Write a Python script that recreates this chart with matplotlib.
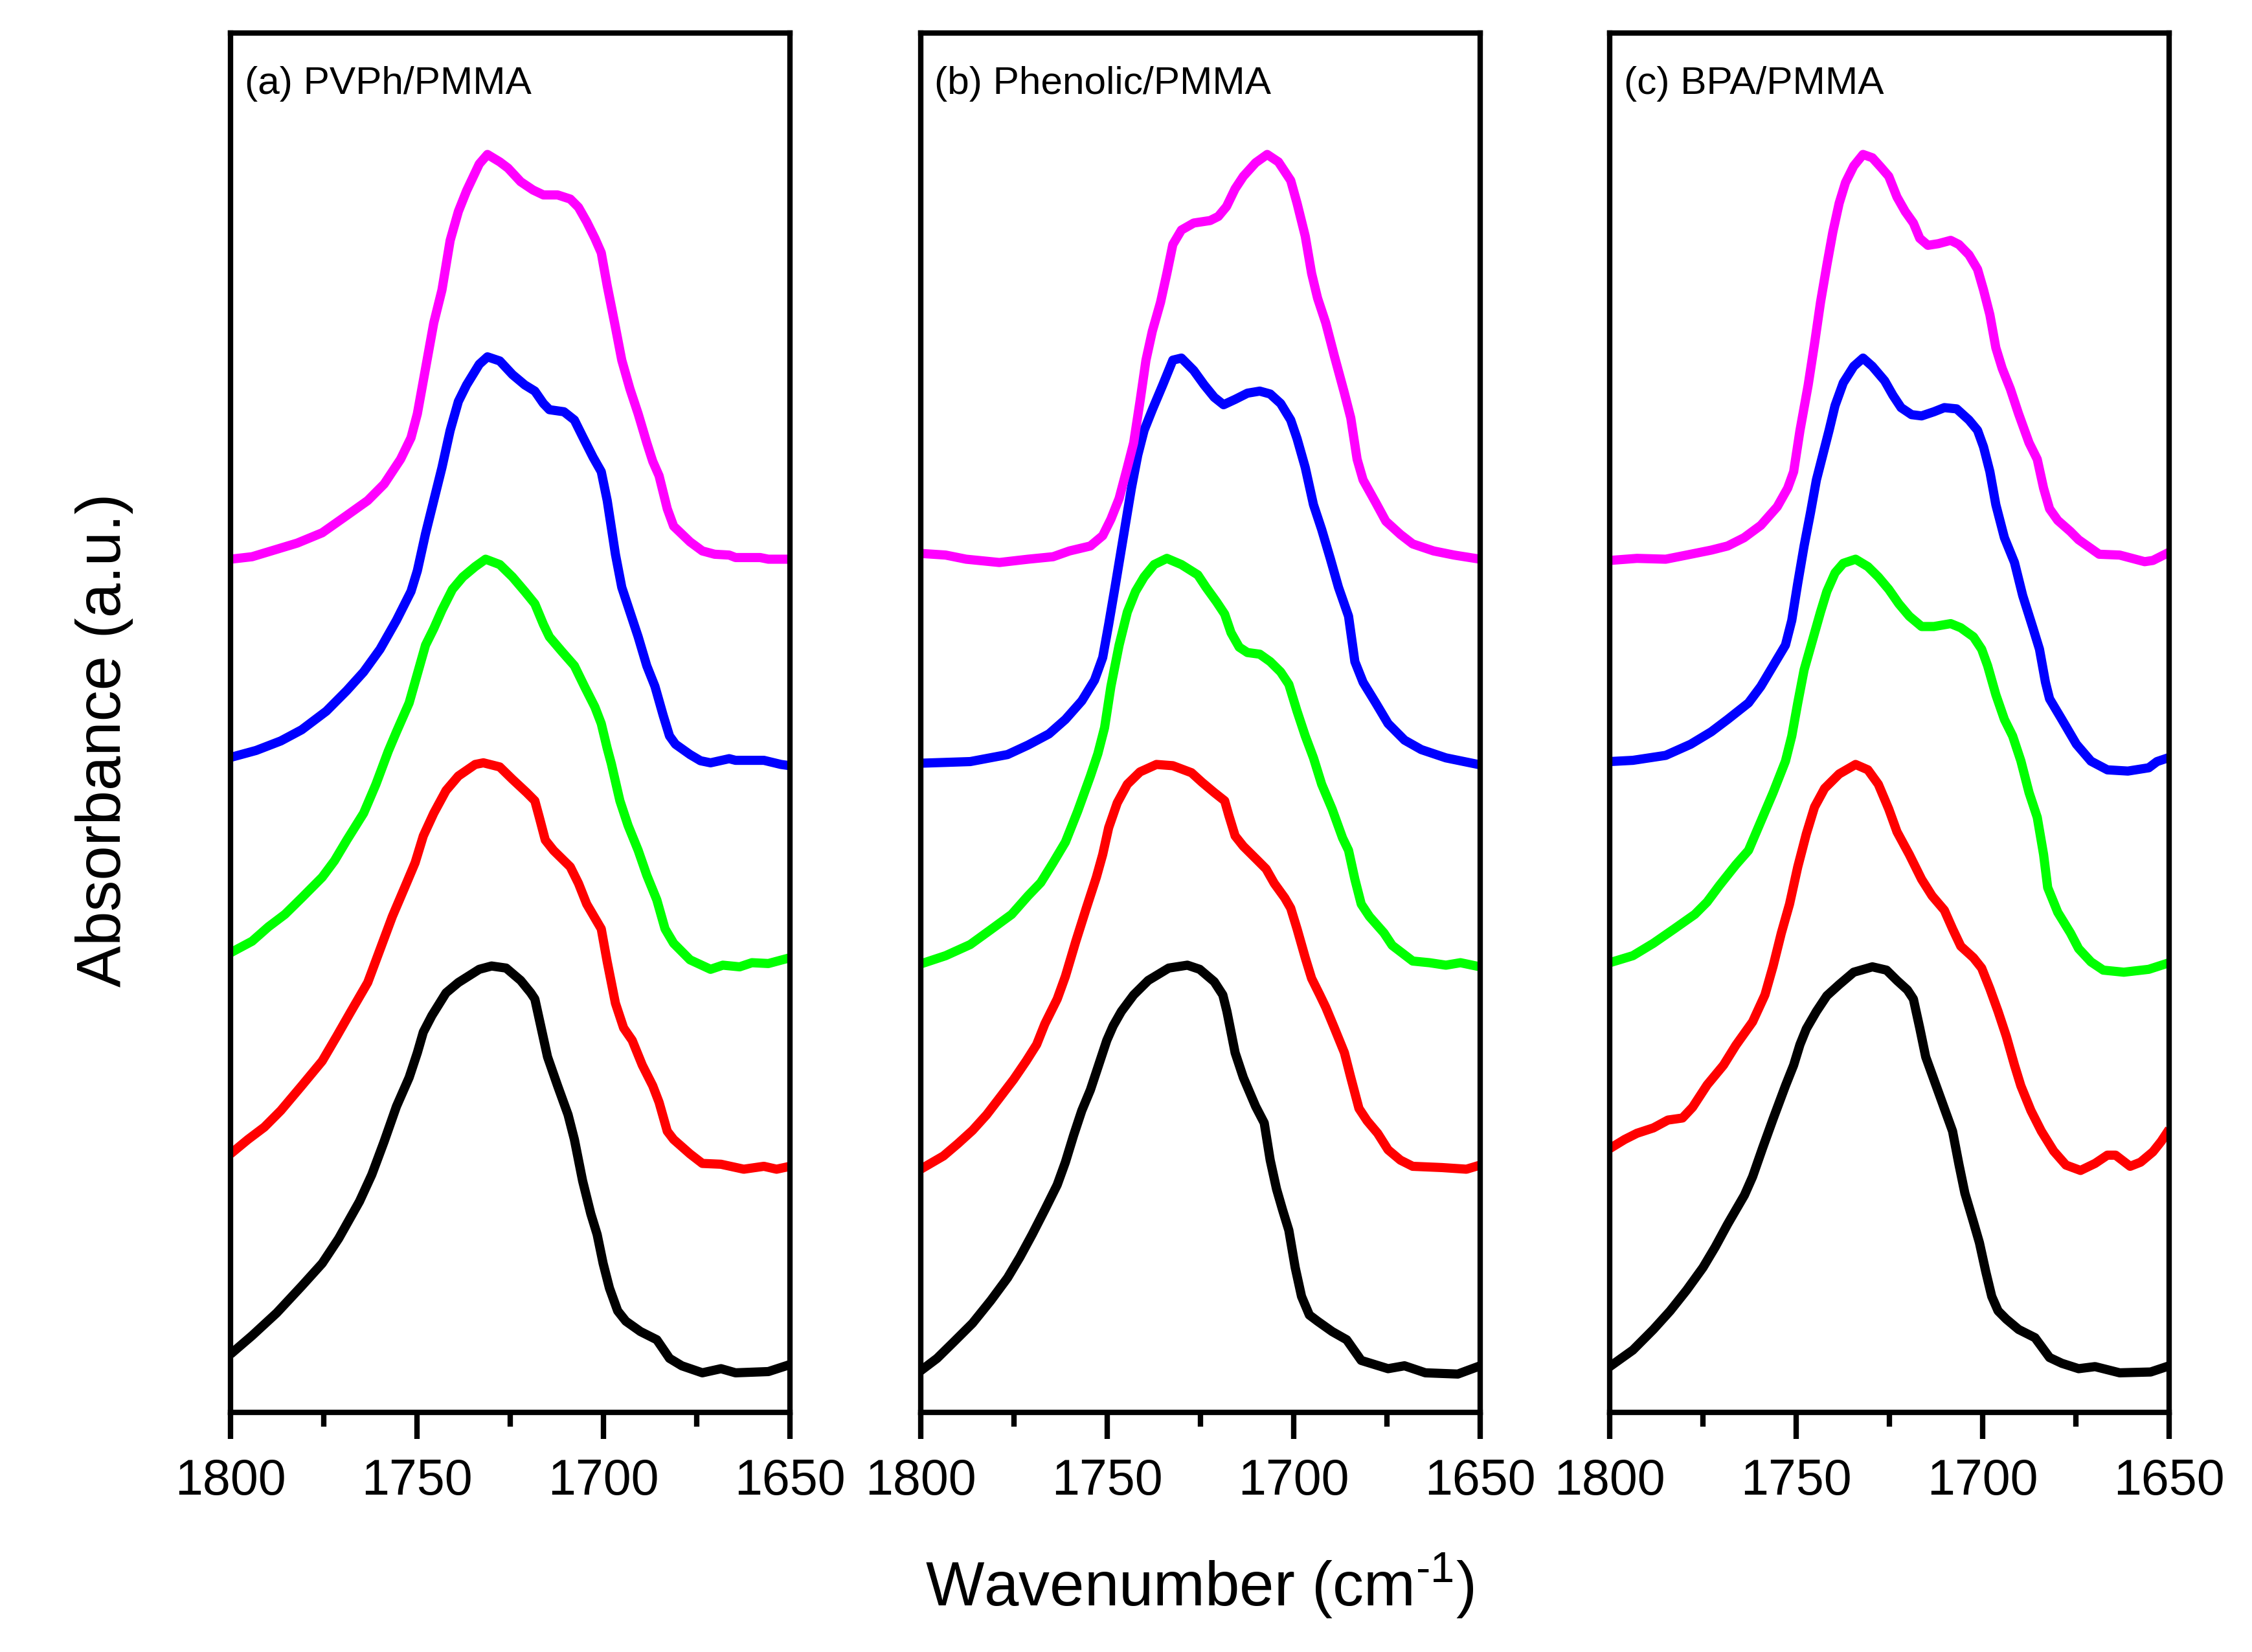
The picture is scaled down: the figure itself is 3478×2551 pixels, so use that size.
import matplotlib
matplotlib.use("Agg")
import matplotlib.pyplot as plt
from matplotlib.ticker import MultipleLocator

plt.rcParams['font.family'] = 'Liberation Sans'
plt.rcParams['mathtext.fontset'] = 'custom'
plt.rcParams['mathtext.rm'] = 'Liberation Sans'
plt.rcParams['mathtext.it'] = 'Liberation Sans:italic'

# ---- panel (a) PVPh/PMMA ----
a_black_x = [1800, 1794.2, 1787.6, 1780.9, 1775.4, 1771.0, 1765.4, 1762.1, 1758.8, 1755.5, 1752.1, 1749.9, 1748.3, 1746.0, 1742.2,
             1738.9, 1733.3, 1730.0, 1726.1, 1722.2, 1719.5, 1718.4, 1716.7, 1715.0, 1712.3, 1709.5, 1707.8, 1705.6, 1703.4, 1701.7,
             1700.1, 1698.4, 1696.2, 1694.0, 1690.1, 1685.7, 1682.3, 1679.0, 1673.5, 1668.5, 1664.6, 1655.8, 1650]
a_black_y = [1.41, 1.86, 2.41, 3.06, 3.61, 4.21, 5.11, 5.76, 6.56, 7.41, 8.11, 8.71, 9.21, 9.61, 10.16,
             10.41, 10.73, 10.81, 10.76, 10.46, 10.16, 10.01, 9.31, 8.61, 7.91, 7.21, 6.61, 5.61, 4.81, 4.31,
             3.61, 3.01, 2.46, 2.21, 1.96, 1.76, 1.31, 1.13, 0.96, 1.06, 0.96, 0.99, 1.16]
a_red_x = [1800, 1795.3, 1790.9, 1786.5, 1780.9, 1775.4, 1771.5, 1767.7, 1763.2, 1759.9, 1756.6, 1753.3, 1750.5, 1748.3, 1745.5,
           1742.2, 1738.9, 1734.4, 1732.2, 1727.8, 1724.4, 1720.6, 1718.4, 1717.2, 1715.6, 1713.4, 1708.9, 1706.7, 1704.5, 1700.6,
           1699.0, 1696.8, 1694.6, 1692.3, 1689.6, 1686.8, 1685.1, 1682.9, 1681.2, 1676.8, 1673.5, 1668.5, 1662.4, 1657.0, 1653.6, 1650]
a_red_y = [6.26, 6.61, 6.91, 7.31, 7.91, 8.51, 9.11, 9.71, 10.41, 11.21, 12.01, 12.71, 13.31, 13.96, 14.51,
           15.06, 15.41, 15.69, 15.73, 15.63, 15.33, 15.01, 14.81, 14.41, 13.86, 13.61, 13.21, 12.81, 12.31, 11.71,
           10.91, 9.91, 9.31, 9.01, 8.41, 7.91, 7.51, 6.81, 6.61, 6.26, 6.03, 6.01, 5.89, 5.96, 5.89, 5.96]
a_green_x = [1800, 1794.2, 1789.8, 1785.4, 1780.9, 1775.4, 1772.1, 1768.8, 1764.3, 1761.0, 1757.7, 1755.5, 1752.1, 1749.9, 1747.7,
             1745.5, 1743.3, 1740.5, 1737.7, 1734.4, 1731.6, 1727.8, 1724.4, 1721.1, 1718.4, 1716.1, 1714.5, 1711.2, 1707.8, 1705.1,
             1702.3, 1700.6, 1699.0, 1697.9, 1695.6, 1693.4, 1690.7, 1688.4, 1685.7, 1683.5, 1681.2, 1676.8, 1671.3, 1668.0, 1663.5,
             1660.2, 1655.8, 1650]
a_green_y = [11.13, 11.41, 11.76, 12.06, 12.46, 12.96, 13.36, 13.86, 14.51, 15.21, 16.01, 16.48, 17.18, 17.88, 18.58,
             18.98, 19.43, 19.93, 20.23, 20.48, 20.66, 20.53, 20.23, 19.88, 19.58, 19.08, 18.78, 18.43, 18.08, 17.58,
             17.08, 16.68, 16.08, 15.71, 14.81, 14.21, 13.61, 13.01, 12.41, 11.71, 11.36, 10.96, 10.73, 10.83, 10.79,
             10.89, 10.87, 11.01]
a_blue_x = [1800, 1793.1, 1786.5, 1780.9, 1774.3, 1768.8, 1764.3, 1759.9, 1755.5, 1751.6, 1749.9, 1747.7, 1745.5, 1743.3, 1741.1,
            1738.9, 1736.7, 1733.3, 1731.1, 1727.8, 1724.4, 1721.1, 1718.4, 1716.1, 1714.5, 1710.6, 1707.8, 1705.6, 1702.8, 1700.6,
            1699.0, 1696.8, 1695.1, 1692.9, 1690.7, 1688.4, 1686.2, 1684.0, 1682.3, 1680.7, 1676.8, 1674.0, 1671.3, 1666.3, 1664.6,
            1657.0, 1652.4, 1650]
a_blue_y = [15.86, 16.03, 16.26, 16.53, 16.98, 17.48, 17.93, 18.48, 19.18, 19.88, 20.38, 21.28, 22.08, 22.88, 23.78,
            24.48, 24.88, 25.38, 25.56, 25.46, 25.13, 24.88, 24.73, 24.43, 24.28, 24.23, 24.03, 23.63, 23.13, 22.78,
            22.08, 20.78, 19.98, 19.38, 18.78, 18.08, 17.58, 16.88, 16.38, 16.18, 15.93, 15.78, 15.73, 15.83, 15.79,
            15.79, 15.69, 15.66]
a_magenta_x = [1800, 1794.2, 1787.6, 1782.1, 1775.4, 1768.8, 1763.2, 1758.8, 1754.4, 1751.6, 1749.9, 1747.7, 1745.5, 1743.3, 1741.1,
               1738.9, 1736.7, 1733.3, 1731.1, 1727.8, 1725.6, 1722.2, 1718.9, 1716.1, 1712.3, 1708.9, 1706.7, 1704.5, 1702.3, 1700.6,
               1699.0, 1696.8, 1695.1, 1692.9, 1690.7, 1688.4, 1686.8, 1685.1, 1682.9, 1681.2, 1676.8, 1673.5, 1670.2, 1666.3, 1664.6,
               1658.0, 1655.8, 1650]
a_magenta_y = [20.66, 20.72, 20.90, 21.05, 21.30, 21.72, 22.08, 22.48, 23.08, 23.60, 24.18, 25.28, 26.38, 27.18, 28.38,
               29.08, 29.58, 30.23, 30.46, 30.28, 30.13, 29.80, 29.60, 29.48, 29.48, 29.38, 29.18, 28.83, 28.43, 28.08,
               27.28, 26.28, 25.48, 24.78, 24.18, 23.48, 23.03, 22.68, 21.88, 21.46, 21.08, 20.86, 20.78, 20.76, 20.70,
               20.70, 20.66, 20.66]

# ---- panel (b) Phenolic/PMMA ----
b_black_x = [1800, 1795.6, 1791.1, 1786.1, 1781.2, 1776.7, 1773.4, 1770.1, 1766.7, 1763.4, 1761.2, 1759.0, 1756.8, 1754.5, 1752.3,
             1750.1, 1748.4, 1746.2, 1742.9, 1739.0, 1733.5, 1728.5, 1725.2, 1721.3, 1719.0, 1717.9, 1715.7, 1713.5, 1710.2, 1707.9,
             1706.3, 1704.6, 1703.0, 1701.3, 1699.6, 1697.9, 1695.8, 1693.6, 1689.7, 1685.8, 1681.9, 1674.7, 1670.3, 1664.7, 1656.0, 1650]
b_black_y = [1.01, 1.31, 1.71, 2.16, 2.71, 3.26, 3.76, 4.31, 4.91, 5.51, 6.06, 6.71, 7.31, 7.81, 8.41,
             9.01, 9.36, 9.71, 10.11, 10.46, 10.76, 10.83, 10.73, 10.43, 10.11, 9.71, 8.71, 8.11, 7.41, 7.01,
             6.11, 5.41, 4.91, 4.41, 3.51, 2.81, 2.36, 2.21, 1.96, 1.76, 1.26, 1.06, 1.13, 0.96, 0.93, 1.13]
b_red_x = [1800, 1793.9, 1790.0, 1786.1, 1782.3, 1778.9, 1775.1, 1771.7, 1768.9, 1766.7, 1763.4, 1761.2, 1758.4, 1755.6, 1752.9,
           1751.2, 1749.6, 1747.3, 1744.6, 1741.2, 1736.8, 1732.4, 1727.4, 1724.6, 1721.3, 1718.5, 1717.4, 1715.7, 1713.5, 1709.6,
           1707.4, 1705.2, 1702.4, 1700.8, 1699.1, 1696.9, 1695.2, 1693.0, 1691.4, 1689.1, 1686.4, 1684.7, 1682.5, 1680.3, 1677.5,
           1674.7, 1671.4, 1668.1, 1660.3, 1653.7, 1650]
b_red_y = [5.89, 6.21, 6.51, 6.83, 7.21, 7.61, 8.06, 8.51, 8.91, 9.41, 10.01, 10.56, 11.41, 12.21, 12.96,
           13.51, 14.16, 14.76, 15.21, 15.51, 15.69, 15.66, 15.49, 15.26, 15.01, 14.81, 14.46, 13.96, 13.71, 13.36,
           13.16, 12.81, 12.46, 12.21, 11.71, 11.01, 10.51, 10.11, 9.81, 9.31, 8.71, 8.11, 7.36, 7.06, 6.76,
           6.36, 6.11, 5.96, 5.93, 5.89, 5.99]
b_green_x = [1800, 1793.3, 1786.7, 1781.2, 1775.6, 1771.2, 1767.8, 1764.5, 1761.2, 1757.9, 1754.5, 1752.5, 1750.7, 1749.0, 1746.8,
             1744.6, 1742.4, 1740.1, 1737.4, 1734.0, 1730.1, 1725.7, 1723.5, 1720.7, 1718.5, 1716.8, 1714.6, 1712.4, 1709.1, 1706.3,
             1703.5, 1701.3, 1699.1, 1696.9, 1694.7, 1692.5, 1689.7, 1686.9, 1685.3, 1683.6, 1681.9, 1679.7, 1675.8, 1673.6, 1668.1,
             1663.6, 1659.2, 1655.3, 1650]
b_green_y = [10.86, 11.06, 11.33, 11.69, 12.06, 12.51, 12.83, 13.31, 13.81, 14.56, 15.41, 15.95, 16.58, 17.58, 18.58,
             19.38, 19.88, 20.23, 20.53, 20.68, 20.53, 20.28, 19.98, 19.63, 19.33, 18.88, 18.53, 18.40, 18.36, 18.18,
             17.93, 17.63, 16.98, 16.38, 15.85, 15.21, 14.61, 13.91, 13.61, 12.91, 12.31, 12.01, 11.61, 11.31, 10.93,
             10.89, 10.83, 10.89, 10.79]
b_blue_x = [1800, 1786.7, 1776.7, 1771.2, 1765.6, 1761.2, 1756.8, 1753.4, 1751.2, 1749.6, 1747.9, 1745.7, 1743.5, 1741.8, 1740.1,
            1737.9, 1735.1, 1732.4, 1730.1, 1726.8, 1724.0, 1721.3, 1718.8, 1715.7, 1712.4, 1709.1, 1706.3, 1703.5, 1700.8, 1699.1,
            1696.9, 1694.7, 1692.5, 1690.2, 1688.0, 1685.3, 1683.6, 1681.4, 1678.0, 1674.7, 1670.3, 1665.8, 1659.2, 1650]
b_blue_y = [15.72, 15.76, 15.93, 16.16, 16.43, 16.78, 17.23, 17.73, 18.28, 19.08, 19.98, 21.18, 22.38, 23.18, 23.78,
            24.28, 24.88, 25.48, 25.53, 25.23, 24.88, 24.58, 24.40, 24.53, 24.68, 24.73, 24.66, 24.43, 24.03, 23.58,
            22.88, 21.98, 21.38, 20.68, 19.98, 19.28, 18.18, 17.68, 17.18, 16.68, 16.28, 16.05, 15.85, 15.68]
b_magenta_x = [1800, 1793.3, 1787.8, 1778.9, 1771.2, 1764.5, 1760.1, 1754.5, 1751.2, 1749.0, 1746.8, 1744.6, 1742.9, 1741.2, 1739.6,
               1737.9, 1735.7, 1734.0, 1732.4, 1730.1, 1726.8, 1722.4, 1720.2, 1718.0, 1715.7, 1713.5, 1710.2, 1707.1, 1704.1, 1700.8,
               1699.1, 1696.9, 1695.2, 1693.6, 1691.4, 1689.1, 1686.4, 1684.7, 1683.0, 1681.4, 1678.0, 1675.3, 1671.4, 1668.1, 1662.5,
               1657.0, 1650]
b_magenta_y = [20.80, 20.76, 20.66, 20.58, 20.66, 20.72, 20.86, 20.98, 21.23, 21.63, 22.13, 22.88, 23.48, 24.48, 25.48,
               26.18, 26.88, 27.58, 28.28, 28.63, 28.80, 28.86, 28.96, 29.20, 29.63, 29.93, 30.26, 30.46, 30.28, 29.83,
               29.28, 28.48, 27.58, 26.98, 26.38, 25.58, 24.68, 24.08, 23.08, 22.58, 22.03, 21.58, 21.26, 21.03, 20.86,
               20.76, 20.66]

# ---- panel (c) BPA/PMMA ----
c_black_x = [1800, 1793.8, 1788.3, 1783.8, 1779.4, 1775.0, 1771.7, 1768.4, 1763.9, 1761.7, 1759.0, 1756.2, 1752.9, 1750.7, 1749.0,
             1747.3, 1744.6, 1741.8, 1738.5, 1734.6, 1729.6, 1725.8, 1723.0, 1720.2, 1718.6, 1716.9, 1715.3, 1712.5, 1709.7, 1708.1,
             1706.4, 1704.8, 1702.5, 1700.9, 1699.2, 1697.6, 1695.9, 1693.7, 1690.4, 1686.0, 1682.1, 1678.8, 1674.3, 1669.9, 1663.3,
             1655.0, 1650]
c_black_y = [1.11, 1.51, 2.01, 2.46, 2.96, 3.51, 4.01, 4.56, 5.26, 5.71, 6.41, 7.11, 7.91, 8.41, 8.91,
             9.29, 9.71, 10.09, 10.36, 10.66, 10.79, 10.71, 10.46, 10.23, 10.01, 9.31, 8.61, 7.91, 7.21, 6.81,
             6.01, 5.31, 4.61, 4.11, 3.41, 2.81, 2.46, 2.26, 2.01, 1.81, 1.33, 1.19, 1.06, 1.11, 0.96,
             0.98, 1.13]
c_red_x = [1800, 1796.0, 1792.7, 1788.3, 1784.4, 1780.5, 1777.8, 1773.9, 1769.5, 1766.2, 1761.7, 1758.4, 1756.2, 1754.0, 1751.8,
           1749.6, 1747.3, 1745.1, 1742.4, 1738.5, 1734.1, 1730.8, 1728.0, 1725.2, 1723.0, 1719.7, 1716.4, 1713.6, 1710.3, 1708.1,
           1705.9, 1702.5, 1700.3, 1698.1, 1695.9, 1693.7, 1691.5, 1689.8, 1687.1, 1684.3, 1681.0, 1677.7, 1673.8, 1669.9, 1666.6,
           1664.4, 1660.5, 1657.7, 1654.4, 1652.2, 1650]
c_red_y = [6.39, 6.61, 6.76, 6.89, 7.08, 7.13, 7.39, 7.93, 8.41, 8.89, 9.46, 10.11, 10.81, 11.61, 12.31,
           13.21, 14.01, 14.66, 15.11, 15.46, 15.69, 15.56, 15.21, 14.61, 14.06, 13.51, 12.91, 12.51, 12.16, 11.71,
           11.29, 11.01, 10.76, 10.26, 9.71, 9.11, 8.41, 7.91, 7.31, 6.81, 6.33, 5.99, 5.86, 6.03, 6.23,
           6.23, 5.96, 6.06, 6.31, 6.56, 6.86]
c_green_x = [1800, 1793.8, 1788.3, 1782.7, 1777.2, 1773.9, 1770.6, 1766.2, 1762.8, 1759.5, 1756.2, 1752.9, 1751.2, 1749.6, 1747.9,
             1745.7, 1743.5, 1741.8, 1739.6, 1737.4, 1734.1, 1730.8, 1728.0, 1725.2, 1722.5, 1719.7, 1716.4, 1713.1, 1708.6, 1705.9,
             1702.5, 1700.3, 1698.7, 1696.5, 1694.2, 1692.0, 1689.8, 1687.6, 1685.4, 1683.7, 1682.6, 1679.9, 1676.5, 1674.3, 1671.0,
             1667.7, 1662.2, 1655.5, 1650]
c_green_y = [10.89, 11.06, 11.36, 11.71, 12.06, 12.36, 12.76, 13.26, 13.61, 14.31, 15.01, 15.77, 16.38, 17.18, 17.98,
             18.68, 19.38, 19.88, 20.33, 20.56, 20.66, 20.48, 20.23, 19.93, 19.58, 19.28, 19.03, 19.03, 19.10, 19.00,
             18.78, 18.48, 18.08, 17.38, 16.78, 16.38, 15.78, 15.01, 14.41, 13.51, 12.71, 12.11, 11.61, 11.23, 10.91,
             10.71, 10.66, 10.73, 10.89]
c_blue_x = [1800, 1793.8, 1785.0, 1778.3, 1772.8, 1768.4, 1762.8, 1759.5, 1756.2, 1752.9, 1751.2, 1749.6, 1747.9, 1746.2, 1744.6,
            1742.9, 1741.2, 1739.6, 1737.4, 1734.6, 1732.1, 1729.6, 1726.3, 1724.1, 1721.9, 1719.1, 1716.4, 1713.1, 1710.3, 1707.0,
            1703.7, 1701.4, 1699.8, 1698.1, 1696.5, 1694.2, 1691.5, 1689.3, 1686.5, 1684.8, 1683.2, 1682.1, 1678.8, 1674.9, 1671.0,
            1666.6, 1661.1, 1655.5, 1653.3, 1650]
c_blue_y = [15.76, 15.79, 15.91, 16.18, 16.48, 16.78, 17.18, 17.58, 18.08, 18.58, 19.18, 20.08, 20.98, 21.78, 22.58,
            23.18, 23.78, 24.38, 24.93, 25.33, 25.53, 25.33, 24.98, 24.63, 24.33, 24.16, 24.13, 24.23, 24.33, 24.30,
            24.03, 23.78, 23.38, 22.78, 21.98, 21.18, 20.58, 19.78, 18.98, 18.48, 17.68, 17.28, 16.78, 16.18, 15.77,
            15.56, 15.53, 15.61, 15.76, 15.86]
c_magenta_x = [1800, 1792.7, 1785.0, 1779.4, 1772.8, 1768.4, 1764.0, 1759.5, 1755.1, 1752.3, 1750.7, 1749.0, 1746.8, 1745.1, 1743.5,
               1741.8, 1740.2, 1738.5, 1736.8, 1734.6, 1732.1, 1729.6, 1727.4, 1725.2, 1723.0, 1720.8, 1718.6, 1716.9, 1714.7, 1711.9,
               1708.6, 1706.4, 1703.7, 1701.4, 1699.8, 1698.1, 1696.5, 1694.8, 1692.6, 1690.4, 1687.6, 1685.4, 1683.7, 1682.1, 1679.9,
               1676.5, 1674.3, 1668.8, 1663.3, 1656.6, 1654.4, 1650]
c_magenta_y = [20.63, 20.68, 20.66, 20.76, 20.88, 20.98, 21.18, 21.48, 21.93, 22.38, 22.78, 23.78, 24.88, 25.88, 26.88,
               27.78, 28.58, 29.28, 29.78, 30.18, 30.46, 30.38, 30.16, 29.93, 29.43, 29.08, 28.80, 28.43, 28.26, 28.30,
               28.38, 28.28, 28.03, 27.68, 27.18, 26.58, 25.78, 25.28, 24.78, 24.18, 23.48, 23.08, 22.38, 21.88, 21.60,
               21.33, 21.13, 20.78, 20.76, 20.60, 20.63, 20.83]

panel_titles = ['(a) PVPh/PMMA', '(b) Phenolic/PMMA', '(c) BPA/PMMA']
colors = ['black', '#FF0000', '#00FF00', '#0000FF', '#FF00FF']
panels = [
    [(a_black_x, a_black_y), (a_red_x, a_red_y), (a_green_x, a_green_y), (a_blue_x, a_blue_y), (a_magenta_x, a_magenta_y)],
    [(b_black_x, b_black_y), (b_red_x, b_red_y), (b_green_x, b_green_y), (b_blue_x, b_blue_y), (b_magenta_x, b_magenta_y)],
    [(c_black_x, c_black_y), (c_red_x, c_red_y), (c_green_x, c_green_y), (c_blue_x, c_blue_y), (c_magenta_x, c_magenta_y)],
]

fig = plt.figure(figsize=(3479 / 300, 2551 / 300), dpi=300)
lefts = [0.1023, 0.4087, 0.7146]
for k in range(3):
    ax = fig.add_axes([lefts[k], 0.145, 0.2484, 0.835])
    for (xs, ys), c in zip(panels[k], colors):
        ax.plot(xs, ys, color=c, lw=3.4, solid_joinstyle='round', solid_capstyle='butt')
    ax.set_xlim(1800, 1650)
    ax.set_ylim(0, 33.4)
    ax.xaxis.set_major_locator(MultipleLocator(50))
    ax.xaxis.set_minor_locator(MultipleLocator(25))
    ax.set_yticks([])
    ax.tick_params(axis='x', which='major', direction='out', length=9.8, width=2.0, labelsize=18.5, pad=7)
    ax.tick_params(axis='x', which='minor', direction='out', length=5.2, width=2.0)
    ax.tick_params(top=False, which='both')
    for s in ax.spines.values():
        s.set_linewidth(2.0)
    ax.text(0.025, 0.956, panel_titles[k], transform=ax.transAxes, fontsize=14.5, va='baseline', ha='left')

fig.text(0.0463, 0.552, 'Absorbance (a.u.)', rotation=90, fontsize=23, ha='center', va='center')
fig.text(0.5326, 0.0278, r'Wavenumber (cm$^{\text{-1}}$)', fontsize=23, ha='center', va='baseline')

fig.savefig('out.png', dpi=300)
